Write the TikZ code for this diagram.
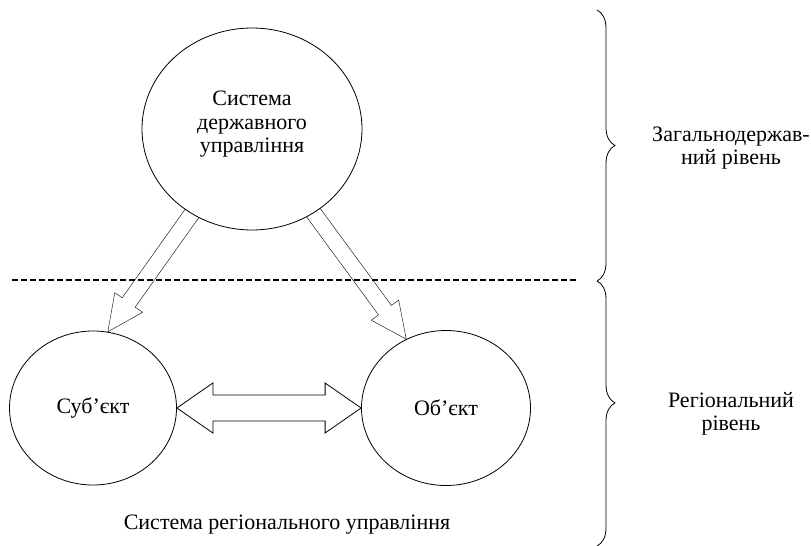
\documentclass[tikz,border=0pt]{standalone}
\usepackage{fontspec}
\setmainfont{Liberation Serif}
\usetikzlibrary{shapes.geometric,calc,decorations.pathreplacing,backgrounds}

\begin{document}
\begin{tikzpicture}[x=1pt,y=-1pt,line width=0.8pt,
  font=\fontsize{22}{23.5}\selectfont,
  ell/.style={ellipse,draw,fill=white,align=center,inner sep=0pt},
  brc/.style={decorate,decoration={brace,amplitude=18pt}}]

\useasboundingbox (0,0) rectangle (811,546);

\node [ell,minimum width=220pt,minimum height=202pt,text depth=14pt] (top) at (252,129) {Система\\державного\\управління};
\node [ell,minimum width=167pt,minimum height=154pt] (subj) at (93,408) {Суб’єкт};
\node [ell,minimum width=169pt,minimum height=155pt] (obj) at (446,408) {Об’єкт};

\begin{scope}[on background layer]
\coordinate (a1) at (top.center);
\coordinate (a2) at (subj.79);
\coordinate (a3) at ($(a2)!36pt!(a1)$);
\draw ($(a1)!8pt!90:(a2)$) -- ($(a3)!8pt!90:(a2)$) -- ($(a3)!17pt!90:(a2)$) -- (a2)
  -- ($(a3)!17pt!-90:(a2)$) -- ($(a3)!8pt!-90:(a2)$) -- ($(a1)!8pt!-90:(a2)$);

\coordinate (b1) at (top.center);
\coordinate (b2) at (obj.120);
\coordinate (b3) at ($(b2)!36pt!(b1)$);
\draw ($(b1)!8pt!90:(b2)$) -- ($(b3)!8pt!90:(b2)$) -- ($(b3)!17pt!90:(b2)$) -- (b2)
  -- ($(b3)!17pt!-90:(b2)$) -- ($(b3)!8pt!-90:(b2)$) -- ($(b1)!8pt!-90:(b2)$);
\end{scope}

\coordinate (d1) at (subj.east);
\coordinate (d2) at (obj.west);
\coordinate (d3) at ($(d1)!36pt!(d2)$);
\coordinate (d4) at ($(d2)!36pt!(d1)$);
\draw (d1) -- ($(d3)!25pt!90:(d2)$) -- ($(d3)!13pt!90:(d2)$) -- ($(d4)!13pt!-90:(d1)$)
  -- ($(d4)!25pt!-90:(d1)$) -- (d2) -- ($(d4)!25pt!90:(d1)$) -- ($(d4)!13pt!90:(d1)$)
  -- ($(d3)!13pt!-90:(d2)$) -- ($(d3)!25pt!-90:(d2)$) -- cycle;

\draw [line width=1.8pt,dash pattern=on 6pt off 3pt] (12,280) -- (577,280);

\draw [brc] (597,10) -- (597,281);
\draw [brc,decoration={aspect=0.46}] (597,281) -- (597,546);

\node [align=center] (lvl1) at (731,148) {Загальнодержав-\\ний рівень};
\node [align=center] (lvl2) at (731,414) {Регіональний\\рівень};
\node (reg) at (287,525) {Система регіонального управління};

\end{tikzpicture}
\end{document}
